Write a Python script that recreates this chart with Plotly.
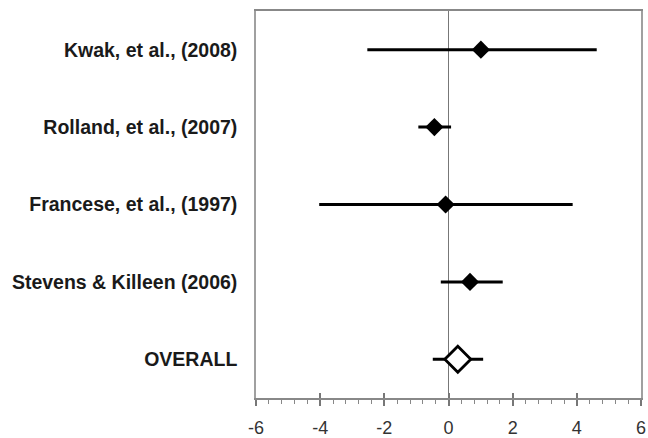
import plotly.graph_objects as go

studies = ["Kwak, et al., (2008)", "Rolland, et al., (2007)", "Francese, et al., (1997)",
           "Stevens & Killeen (2006)", "OVERALL"]
effect = [1.01, -0.44, -0.09, 0.67, 0.29]
ci_low = [-2.53, -0.94, -4.03, -0.24, -0.49]
ci_high = [4.62, 0.08, 3.87, 1.69, 1.08]
x_ticks = [-6, -4, -2, 0, 2, 4, 6]

err_plus = [h - e for h, e in zip(ci_high, effect)]
err_minus = [e - l for e, l in zip(effect, ci_low)]

fig = go.Figure()
# studies (filled diamonds)
fig.add_trace(go.Scatter(
    x=effect[:4], y=studies[:4], mode="markers",
    marker=dict(symbol="diamond", size=14, color="black"),
    error_x=dict(type="data", symmetric=False, array=err_plus[:4], arrayminus=err_minus[:4],
                 color="black", thickness=3, width=0),
    showlegend=False, hoverinfo="skip"))
# overall (open diamond)
fig.add_trace(go.Scatter(
    x=effect[4:], y=studies[4:], mode="markers",
    marker=dict(symbol="diamond", size=20, color="white", line=dict(color="black", width=2.8)),
    error_x=dict(type="data", symmetric=False, array=err_plus[4:], arrayminus=err_minus[4:],
                 color="black", thickness=3, width=0),
    showlegend=False, hoverinfo="skip"))
# invisible trace to carry the overlay axis (inner halves of the major ticks)
fig.add_trace(go.Scatter(x=[None], y=[None], xaxis="x2", yaxis="y", showlegend=False,
                         hoverinfo="skip"))

fig.update_layout(
    width=648, height=438,
    margin=dict(l=256, r=7, t=11, b=40),
    plot_bgcolor="white", paper_bgcolor="white",
    font=dict(family="Liberation Sans, Arial, sans-serif"),
    xaxis=dict(
        range=[-6, 6], tickvals=x_ticks, ticktext=[str(t) for t in x_ticks],
        automargin=False, ticklabeloverflow="allow", ticklabelstandoff=7,
        showgrid=False, zeroline=True, zerolinecolor="#777777", zerolinewidth=1,
        showline=True, linecolor="#888888", linewidth=1.5, mirror=True,
        ticks="outside", ticklen=6, tickcolor="#777777", tickwidth=1.5,
        minor=dict(dtick=0.4, ticks="outside", ticklen=4, tickcolor="#888888", tickwidth=1),
        tickfont=dict(size=18, color="#333333"),
    ),
    xaxis2=dict(overlaying="x", side="bottom", range=[-6, 6], tickvals=x_ticks,
                showticklabels=False, ticks="inside", ticklen=5, tickwidth=1.5,
                tickcolor="#777777", showline=False, showgrid=False, zeroline=False,
                automargin=False),
    yaxis=dict(
        type="category", categoryorder="array", categoryarray=studies[::-1],
        automargin=False,
        range=[-0.5, 4.5], showgrid=False, zeroline=False,
        showline=True, linecolor="#a0a0a0", linewidth=1.5, mirror=True,
        ticks="", ticklabelstandoff=13,
        tickfont=dict(size=19.5, color="#1a1a1a", family="Liberation Sans, Arial, sans-serif",
                      weight="bold"),
    ),
)

fig.write_html("out.html", config={"displayModeBar": False},
               post_script="document.body.style.margin='0';")
